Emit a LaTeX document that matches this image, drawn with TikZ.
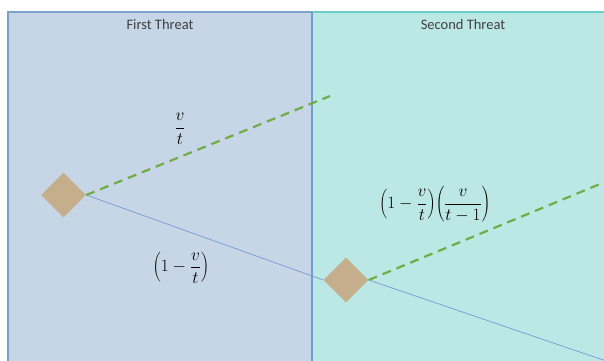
\documentclass[tikz,border=0pt]{standalone}
\usepackage{fontspec}
\setsansfont{Carlito}
\usetikzlibrary{shapes.geometric}
\definecolor{leftfill}{RGB}{198,214,230}
\definecolor{rightfill}{RGB}{187,232,228}
\definecolor{leftborder}{RGB}{124,160,204}
\definecolor{rightborder}{RGB}{110,205,200}
\definecolor{divider}{RGB}{110,160,205}
\definecolor{gem}{RGB}{196,174,140}
\definecolor{dashgreen}{RGB}{112,173,71}
\definecolor{thinblue}{RGB}{114,155,215}
\definecolor{titlegray}{RGB}{64,64,64}
\tikzset{
  gemnode/.style={diamond, fill=gem, minimum width=45pt, minimum height=45pt, inner sep=0pt},
  greendash/.style={draw=dashgreen, line width=2.2pt, dash pattern=on 9pt off 6pt},
  blueline/.style={draw=thinblue, line width=0.7pt},
  titletext/.style={font=\sffamily\fontsize{14.5}{16}\selectfont, text=titlegray},
  mathtext/.style={font=\fontsize{17}{20}\selectfont}
}
\begin{document}
\begin{tikzpicture}[x=1pt,y=-1pt]
\useasboundingbox (0,0) rectangle (604,360);
\clip (0,0) rectangle (604,360);
\fill[leftfill] (8,12) rectangle (312,370);
\fill[rightfill] (312,12) rectangle (612,370);
\draw[leftborder, line width=1.2pt] (8,370) -- (8,12) -- (312,12);
\draw[rightborder, line width=1.2pt] (312,12) -- (612,12);
\draw[divider, line width=1.5pt] (312,12) -- (312,370);
\node[titletext] (t1) at (160,25) {First Threat};
\node[titletext] (t2) at (463,25) {Second Threat};
\coordinate (g1end) at (330,96);
\coordinate (g2end) at (612,179);
\coordinate (b2end) at (612,363);
\node[gemnode] (d1) at (63.5,195) {};
\node[gemnode] (d2) at (346,280) {};
\draw[blueline] (d1.east) -- (d2.west);
\draw[blueline] (d2.east) -- (b2end);
\draw[greendash] (d1.east) -- (g1end);
\draw[greendash] (d2.east) -- (g2end);
\node[mathtext] (l1) at (180,129) {$\displaystyle \frac{v}{t}$};
\node[mathtext] (l2) at (181,268) {$\displaystyle \left(1-\frac{v}{t}\right)$};
\node[mathtext] (l3) at (435,204) {$\displaystyle \left(1-\frac{v}{t}\right)\!\left(\frac{v}{t-1}\right)$};
\end{tikzpicture}
\end{document}
